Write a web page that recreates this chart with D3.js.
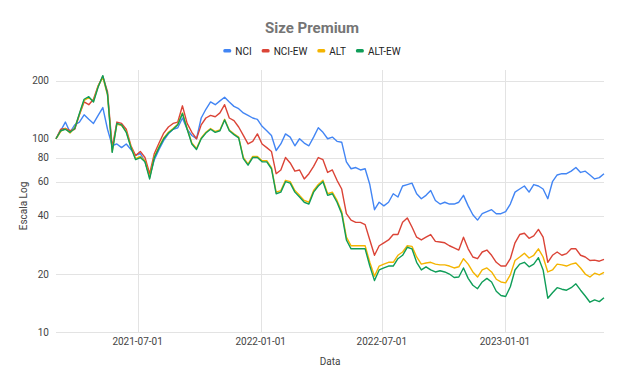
<!DOCTYPE html>
<html>
<head>
<meta charset="utf-8">
<script src="https://cdn.jsdelivr.net/npm/d3@7"></script>
<style>
  body { margin: 0; background: #fff; }
  text { font-family: Roboto, Arial, sans-serif; }
</style>
</head>
<body>
<div id="chart"></div>
<script>
// weekly closes
const startDate = '2021-03-01';
const endDate = '2023-06-01';

const nci = [100, 110, 122, 108, 118, 122, 133, 126, 120, 132, 145, 112, 92, 94, 90, 94, 88, 82, 84, 76,
  64, 78, 88, 98, 106, 112, 114, 128, 112, 104, 100, 128, 142, 155, 150, 157, 164, 155, 147, 143,
  136, 132, 128, 126, 116, 110, 104, 87, 94, 106, 102, 92, 100, 95, 92, 102, 114, 108, 100, 102,
  97, 96, 76, 70, 71, 69, 70, 58, 43, 47, 45, 47, 52, 50, 57, 58, 59, 52, 49, 51,
  54, 48, 46, 47, 46, 46, 47, 51, 45, 40.5, 38, 41, 42, 43, 41, 41, 42, 46, 53, 55,
  57, 53, 58, 57, 55, 49, 60, 65, 66, 66, 68, 71, 67, 68, 65, 62, 63, 66];

const nciEw = [100, 112, 113, 110, 112, 133, 155, 150, 160, 188, 210, 175, 90, 122, 120, 112, 92, 82, 86, 80,
  66, 84, 95, 107, 115, 120, 122, 148, 120, 108, 100, 118, 128, 132, 130, 136, 150, 128, 124, 115,
  104, 94, 97, 106, 94, 90, 86, 66, 69, 80, 75, 68, 69, 62, 66, 72, 80, 78, 67, 69,
  61, 55, 41, 38, 37, 37, 36, 30, 25, 28, 29, 30, 32, 32, 37, 39, 35, 31, 30, 31,
  32, 29.5, 29.3, 29, 28, 27.3, 26.6, 31, 27, 24.5, 24, 26, 26.6, 25, 23, 22, 22, 24, 29, 32,
  32.5, 30.6, 31.5, 34, 31, 23, 25, 26, 25, 25.5, 27, 27, 25, 24.5, 23.5, 23.6, 23.3, 23.8];

const alt = [100, 109, 113, 107, 114, 134, 158, 163, 156, 187, 208, 168, 86, 119, 117, 109, 91, 79, 81, 77,
  63, 81, 91, 101, 108, 113, 119, 136, 113, 95, 89, 101, 108, 113, 109, 111, 126, 111, 106, 102,
  80, 74, 81, 81, 77, 77, 71, 53, 54, 61, 60, 54, 51, 48, 47, 54, 58, 61, 52, 53,
  48, 42, 31, 28, 28, 28, 28, 23, 19.5, 22, 22.5, 23, 23, 25, 26, 28, 27.8, 24.5, 22.5, 22.8,
  23, 22.5, 22.3, 22.3, 22, 21.5, 21.8, 24, 22.5, 20.5, 19.3, 21, 21.5, 20.5, 18.8, 18.2, 18, 19.8, 23.5, 24.5,
  25.6, 24.2, 25, 27, 24.5, 20.5, 21, 22.5, 22.3, 22, 22.5, 22.8, 21.5, 20, 19.3, 20.2, 19.8, 20.4];

const altEw = [100, 110, 112, 108, 113, 135, 160, 165, 155, 185, 212, 170, 85, 120, 118, 108, 90, 78, 80, 76,
  62, 80, 90, 100, 107, 112, 118, 135, 112, 94, 88, 100, 107, 112, 108, 110, 125, 110, 105, 101,
  79, 73, 80, 80, 76, 76, 70, 52, 53, 60, 59, 53, 50, 47, 46, 53, 57, 60, 51, 52,
  47, 41, 30, 27, 27, 27, 27, 22, 18.5, 21, 21.5, 22, 22, 24, 25, 27.5, 27, 23, 21, 21.8,
  21, 20.5, 20.8, 20.5, 20, 19.2, 19.3, 21.5, 19, 17.5, 16.8, 18.2, 19, 18.2, 16.3, 15.5, 15.3, 17.2, 21, 22.5,
  23, 21.8, 22.5, 24.3, 21, 15, 16, 17, 16.7, 16.5, 17, 17.8, 16.5, 15.4, 14.3, 14.7, 14.4, 15.1];

const seriesNames = ['NCI', 'NCI-EW', 'ALT', 'ALT-EW'];
const seriesValues = [nci, nciEw, alt, altEw];
const yTicks = [10, 20, 40, 60, 80, 100, 200];
const xTicks = ['2021-07-01', '2022-01-01', '2022-07-01', '2023-01-01'];

const colors = ['#4285f4', '#db4437', '#f4b400', '#0f9d58'];

function draw() {
    const width = 624, height = 385;
    const svg = d3.create('svg')
        .attr('width', width)
        .attr('height', height);
    document.getElementById('chart').append(svg.node());

    const parse = d3.utcParse('%Y-%m-%d');
    const dates = d3.utcDay.range(parse(startDate), parse(endDate), 7);

    const x = d3.scaleUtc()
        .domain([dates[0], dates[dates.length - 1]])
        .range([56, 604]);
    const y = d3.scaleLog()
        .domain([10, 200])
        .range([332.3, 80.5]);

    // gridlines
    const grid = svg.append('g').attr('stroke', '#e3e3e3').attr('stroke-width', 1);
    grid.selectAll('line.h')
        .data(yTicks)
        .enter()
        .append('line')
            .attr('x1', 56).attr('x2', 604)
            .attr('y1', d => Math.round(y(d)) + 0.5)
            .attr('y2', d => Math.round(y(d)) + 0.5);
    grid.selectAll('line.v')
        .data(xTicks)
        .enter()
        .append('line')
            .attr('x1', d => Math.round(x(parse(d))) + 0.5)
            .attr('x2', d => Math.round(x(parse(d))) + 0.5)
            .attr('y1', 70).attr('y2', 332.5);

    // axes labels
    svg.append('g')
        .selectAll('text')
        .data(yTicks)
        .enter()
        .append('text')
            .attr('x', 49)
            .attr('y', d => y(d) + 3.5)
            .attr('text-anchor', 'end')
            .attr('font-size', 10)
            .attr('fill', '#444')
            .text(d => d);
    svg.append('g')
        .selectAll('text')
        .data(xTicks)
        .enter()
        .append('text')
            .attr('x', d => x(parse(d)))
            .attr('y', 345)
            .attr('text-anchor', 'middle')
            .attr('font-size', 10)
            .attr('fill', '#444')
            .text(d => d);

    svg.append('text')
        .attr('transform', 'translate(27,206) rotate(-90)')
        .attr('text-anchor', 'middle')
        .attr('font-size', 10)
        .attr('fill', '#444')
        .text('Escala Log');
    svg.append('text')
        .attr('x', 330).attr('y', 365)
        .attr('text-anchor', 'middle')
        .attr('font-size', 10)
        .attr('fill', '#444')
        .text('Data');

    // lines
    const line = d3.line()
        .x((d, i) => x(dates[i]))
        .y(d => y(d));
    svg.append('g')
        .selectAll('path')
        .data(seriesValues)
        .enter()
        .append('path')
            .attr('d', d => line(d))
            .attr('fill', 'none')
            .attr('stroke', (d, i) => colors[i])
            .attr('stroke-width', 1.4)
            .attr('stroke-linejoin', 'round');

    // title + legend
    svg.append('text')
        .attr('x', 312).attr('y', 33)
        .attr('text-anchor', 'middle')
        .attr('font-size', 15)
        .attr('font-weight', 'bold')
        .attr('fill', '#757575')
        .text('Size Premium');

    const legend = svg.append('g');
    let lx = 0;
    seriesNames.forEach(function(name, i) {
        const item = legend.append('g').attr('transform', `translate(${lx},0)`);
        item.append('rect')
            .attr('x', 0).attr('y', -2)
            .attr('width', 8).attr('height', 3.5)
            .attr('rx', 1.5)
            .attr('fill', colors[i]);
        const t = item.append('text')
            .attr('x', 12).attr('y', 3.5)
            .attr('font-size', 10)
            .attr('fill', '#222')
            .text(name);
        lx += 12 + t.node().getComputedTextLength() + 10;
    });
    const w = legend.node().getBBox().width;
    legend.attr('transform', `translate(${312 - w / 2},51)`);
}

draw();
</script>
</body>
</html>
